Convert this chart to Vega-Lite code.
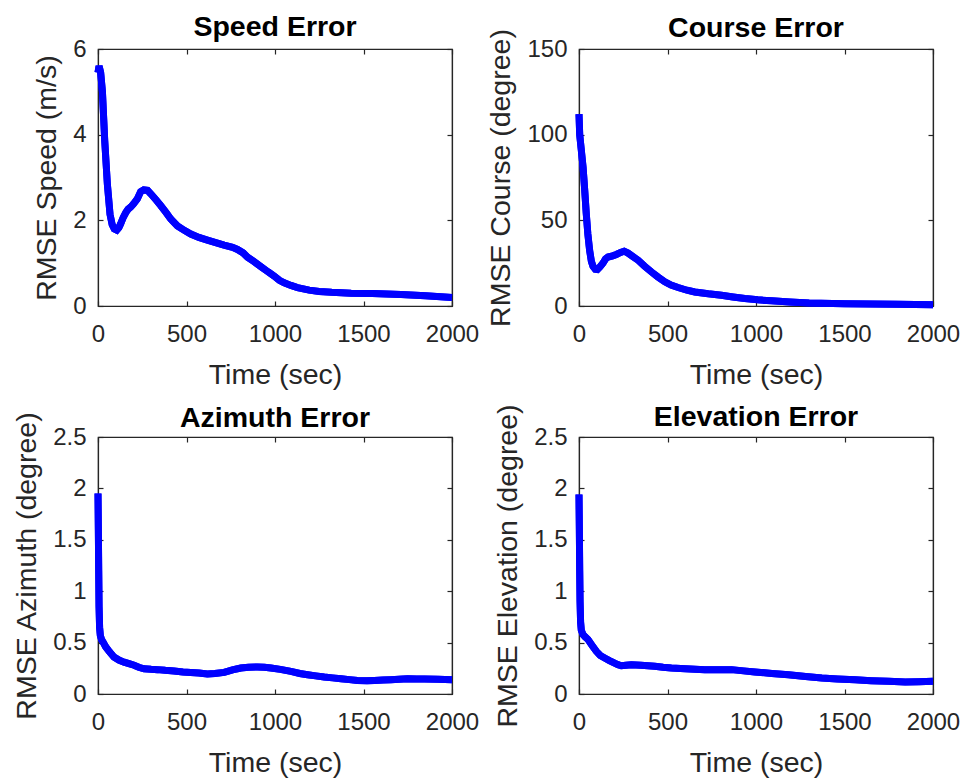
{
  "$schema": "https://vega.github.io/schema/vega-lite/v6.json",
  "padding": {"left": 12, "top": 11, "right": 0, "bottom": 0},
  "background": "#ffffff",
  "datasets": {
    "speed": [
      {"t":0,"v":5.45},{"t":6,"v":5.6},{"t":15,"v":5.45},{"t":25,"v":5.0},{"t":38,"v":3.86},{"t":53,"v":2.84},{"t":68,"v":2.14},{"t":80,"v":1.9},{"t":92,"v":1.8},{"t":106,"v":1.77},{"t":118,"v":1.83},{"t":128,"v":1.92},{"t":142,"v":2.06},{"t":157,"v":2.18},{"t":170,"v":2.26},{"t":185,"v":2.31},{"t":200,"v":2.38},{"t":222,"v":2.5},{"t":241,"v":2.67},{"t":258,"v":2.71},{"t":280,"v":2.7},{"t":298,"v":2.62},{"t":325,"v":2.49},{"t":355,"v":2.34},{"t":385,"v":2.18},{"t":411,"v":2.03},{"t":449,"v":1.87},{"t":490,"v":1.76},{"t":524,"v":1.68},{"t":570,"v":1.6},{"t":618,"v":1.54},{"t":665,"v":1.48},{"t":712,"v":1.42},{"t":760,"v":1.37},{"t":788,"v":1.32},{"t":820,"v":1.24},{"t":845,"v":1.14},{"t":880,"v":1.04},{"t":920,"v":0.92},{"t":960,"v":0.8},{"t":995,"v":0.7},{"t":1025,"v":0.6},{"t":1052,"v":0.54},{"t":1090,"v":0.48},{"t":1127,"v":0.43},{"t":1160,"v":0.4},{"t":1193,"v":0.37},{"t":1250,"v":0.34},{"t":1320,"v":0.32},{"t":1430,"v":0.3},{"t":1550,"v":0.29},{"t":1712,"v":0.27},{"t":1850,"v":0.24},{"t":2000,"v":0.2}
    ],
    "course": [
      {"t":0,"v":112},{"t":4,"v":100},{"t":12,"v":92},{"t":23,"v":81},{"t":32,"v":68},{"t":41,"v":54},{"t":50,"v":42},{"t":60,"v":32.5},{"t":70,"v":26},{"t":79,"v":23.2},{"t":92,"v":21.5},{"t":104,"v":21.3},{"t":118,"v":22.8},{"t":136,"v":25.1},{"t":150,"v":27.5},{"t":164,"v":28.6},{"t":190,"v":29.3},{"t":211,"v":30.1},{"t":235,"v":31.3},{"t":255,"v":32},{"t":277,"v":30.9},{"t":305,"v":28.8},{"t":334,"v":26.7},{"t":370,"v":23.3},{"t":409,"v":19.9},{"t":445,"v":17},{"t":485,"v":14.1},{"t":520,"v":12.2},{"t":560,"v":10.8},{"t":610,"v":9.2},{"t":654,"v":8.2},{"t":730,"v":7.1},{"t":805,"v":6.3},{"t":870,"v":5.3},{"t":937,"v":4.4},{"t":1010,"v":3.6},{"t":1088,"v":3.0},{"t":1192,"v":2.4},{"t":1300,"v":1.8},{"t":1500,"v":1.3},{"t":1800,"v":1.0},{"t":2000,"v":0.8}
    ],
    "azimuth": [
      {"t":0,"v":1.95},{"t":2,"v":1.6},{"t":4,"v":1.2},{"t":6,"v":0.85},{"t":9,"v":0.65},{"t":13,"v":0.57},{"t":20,"v":0.53},{"t":30,"v":0.5},{"t":43,"v":0.46},{"t":65,"v":0.41},{"t":90,"v":0.36},{"t":118,"v":0.33},{"t":147,"v":0.31},{"t":175,"v":0.295},{"t":204,"v":0.28},{"t":230,"v":0.26},{"t":260,"v":0.245},{"t":300,"v":0.24},{"t":336,"v":0.237},{"t":380,"v":0.23},{"t":430,"v":0.224},{"t":480,"v":0.215},{"t":524,"v":0.21},{"t":570,"v":0.205},{"t":618,"v":0.195},{"t":660,"v":0.2},{"t":713,"v":0.21},{"t":760,"v":0.235},{"t":807,"v":0.253},{"t":850,"v":0.26},{"t":901,"v":0.263},{"t":940,"v":0.26},{"t":977,"v":0.253},{"t":1030,"v":0.24},{"t":1090,"v":0.22},{"t":1140,"v":0.2},{"t":1184,"v":0.188},{"t":1230,"v":0.176},{"t":1278,"v":0.165},{"t":1325,"v":0.157},{"t":1373,"v":0.149},{"t":1420,"v":0.14},{"t":1467,"v":0.132},{"t":1520,"v":0.13},{"t":1561,"v":0.132},{"t":1610,"v":0.135},{"t":1655,"v":0.139},{"t":1700,"v":0.143},{"t":1750,"v":0.149},{"t":1800,"v":0.147},{"t":1844,"v":0.146},{"t":1920,"v":0.143},{"t":2000,"v":0.139}
    ],
    "elevation": [
      {"t":0,"v":1.94},{"t":2,"v":1.6},{"t":4,"v":1.2},{"t":6,"v":0.9},{"t":9,"v":0.7},{"t":13,"v":0.62},{"t":23,"v":0.577},{"t":35,"v":0.555},{"t":51,"v":0.53},{"t":75,"v":0.47},{"t":98,"v":0.415},{"t":120,"v":0.375},{"t":145,"v":0.35},{"t":172,"v":0.325},{"t":201,"v":0.3},{"t":220,"v":0.285},{"t":239,"v":0.275},{"t":265,"v":0.28},{"t":296,"v":0.285},{"t":350,"v":0.28},{"t":428,"v":0.27},{"t":475,"v":0.26},{"t":522,"v":0.253},{"t":600,"v":0.245},{"t":711,"v":0.237},{"t":790,"v":0.237},{"t":862,"v":0.237},{"t":930,"v":0.225},{"t":994,"v":0.214},{"t":1090,"v":0.2},{"t":1183,"v":0.188},{"t":1280,"v":0.17},{"t":1372,"v":0.156},{"t":1460,"v":0.147},{"t":1560,"v":0.139},{"t":1650,"v":0.13},{"t":1749,"v":0.123},{"t":1843,"v":0.117},{"t":1920,"v":0.12},{"t":2000,"v":0.123}
    ]
  },
  "columns": 2,
  "spacing": {"column": 6, "row": 12},
  "concat": [
    {
      "title": {"text": "Speed Error", "offset": -4},
      "width": 354, "height": 257,
      "data": {"name": "speed"},
      "layer": [
        {"mark": {"type": "line", "color": "#0000ff", "strokeWidth": 7},
         "encoding": {
           "x": {"field": "t", "type": "quantitative", "scale": {"domain": [0, 2000], "nice": false}, "axis": {"orient": "top", "labels": false, "title": null, "domain": true, "ticks": true, "values": [0,500,1000,1500,2000]}},
           "y": {"field": "v", "type": "quantitative", "scale": {"domain": [0, 6], "nice": false}, "axis": {"orient": "right", "labels": false, "title": null, "domain": true, "ticks": true, "values": [0,2,4,6]}}}},
        {"mark": {"type": "line", "color": "#0000ff", "strokeWidth": 7},
         "encoding": {
           "x": {"field": "t", "type": "quantitative", "title": "Time (sec)", "axis": {"orient": "bottom", "values": [0,500,1000,1500,2000]}},
           "y": {"field": "v", "type": "quantitative", "title": "RMSE Speed (m/s)", "axis": {"orient": "left", "values": [0,2,4,6]}}}}
      ],
      "resolve": {"axis": {"x": "independent", "y": "independent"}}
    },
    {
      "title": {"text": "Course Error", "offset": -14},
      "width": 354, "height": 257,
      "data": {"name": "course"},
      "layer": [
        {"mark": {"type": "line", "color": "#0000ff", "strokeWidth": 7},
         "encoding": {
           "x": {"field": "t", "type": "quantitative", "scale": {"domain": [0, 2000], "nice": false}, "axis": {"orient": "top", "labels": false, "title": null, "domain": true, "ticks": true, "values": [0,500,1000,1500,2000]}},
           "y": {"field": "v", "type": "quantitative", "scale": {"domain": [0, 150], "nice": false}, "axis": {"orient": "right", "labels": false, "title": null, "domain": true, "ticks": true, "values": [0,50,100,150]}}}},
        {"mark": {"type": "line", "color": "#0000ff", "strokeWidth": 7},
         "encoding": {
           "x": {"field": "t", "type": "quantitative", "title": "Time (sec)", "axis": {"orient": "bottom", "values": [0,500,1000,1500,2000]}},
           "y": {"field": "v", "type": "quantitative", "title": "RMSE Course (degree)", "axis": {"orient": "left", "values": [0,50,100,150]}}}}
      ],
      "resolve": {"axis": {"x": "independent", "y": "independent"}}
    },
    {
      "title": {"text": "Azimuth Error", "offset": -21},
      "width": 354, "height": 257,
      "data": {"name": "azimuth"},
      "layer": [
        {"mark": {"type": "line", "color": "#0000ff", "strokeWidth": 7},
         "encoding": {
           "x": {"field": "t", "type": "quantitative", "scale": {"domain": [0, 2000], "nice": false}, "axis": {"orient": "top", "labels": false, "title": null, "domain": true, "ticks": true, "values": [0,500,1000,1500,2000]}},
           "y": {"field": "v", "type": "quantitative", "scale": {"domain": [0, 2.5], "nice": false}, "axis": {"orient": "right", "labels": false, "title": null, "domain": true, "ticks": true, "values": [0,0.5,1,1.5,2,2.5]}}}},
        {"mark": {"type": "line", "color": "#0000ff", "strokeWidth": 7},
         "encoding": {
           "x": {"field": "t", "type": "quantitative", "title": "Time (sec)", "axis": {"orient": "bottom", "values": [0,500,1000,1500,2000]}},
           "y": {"field": "v", "type": "quantitative", "title": "RMSE Azimuth (degree)", "axis": {"orient": "left", "values": [0,0.5,1,1.5,2,2.5]}}}}
      ],
      "resolve": {"axis": {"x": "independent", "y": "independent"}}
    },
    {
      "title": {"text": "Elevation Error", "offset": -28},
      "width": 354, "height": 257,
      "data": {"name": "elevation"},
      "layer": [
        {"mark": {"type": "line", "color": "#0000ff", "strokeWidth": 7},
         "encoding": {
           "x": {"field": "t", "type": "quantitative", "scale": {"domain": [0, 2000], "nice": false}, "axis": {"orient": "top", "labels": false, "title": null, "domain": true, "ticks": true, "values": [0,500,1000,1500,2000]}},
           "y": {"field": "v", "type": "quantitative", "scale": {"domain": [0, 2.5], "nice": false}, "axis": {"orient": "right", "labels": false, "title": null, "domain": true, "ticks": true, "values": [0,0.5,1,1.5,2,2.5]}}}},
        {"mark": {"type": "line", "color": "#0000ff", "strokeWidth": 7},
         "encoding": {
           "x": {"field": "t", "type": "quantitative", "title": "Time (sec)", "axis": {"orient": "bottom", "values": [0,500,1000,1500,2000]}},
           "y": {"field": "v", "type": "quantitative", "title": "RMSE Elevation (degree)", "axis": {"orient": "left", "values": [0,0.5,1,1.5,2,2.5]}}}}
      ],
      "resolve": {"axis": {"x": "independent", "y": "independent"}}
    }
  ],
  "config": {
    "font": "Liberation Sans",
    "view": {"stroke": "#262626", "strokeWidth": 1.2},
    "axis": {
      "grid": false,
      "format": "~r",
      "labelFont": "Liberation Sans", "labelFontSize": 24, "labelColor": "#262626",
      "labelFlush": false, "labelOverlap": false,
      "titleFont": "Liberation Sans", "titleFontSize": 28.5, "titleFontWeight": "normal", "titleColor": "#262626",
      "domainColor": "#262626", "domainWidth": 1.2,
      "tickColor": "#262626", "tickWidth": 1.2, "tickSize": -5
    },
    "axisX": {"labelPadding": 21, "titlePadding": 14},
    "axisY": {"labelPadding": 17, "titlePadding": 11},
    "title": {"font": "Liberation Sans", "fontSize": 28.5, "fontWeight": "bold", "color": "#000000", "frame": "group"}
  }
}
